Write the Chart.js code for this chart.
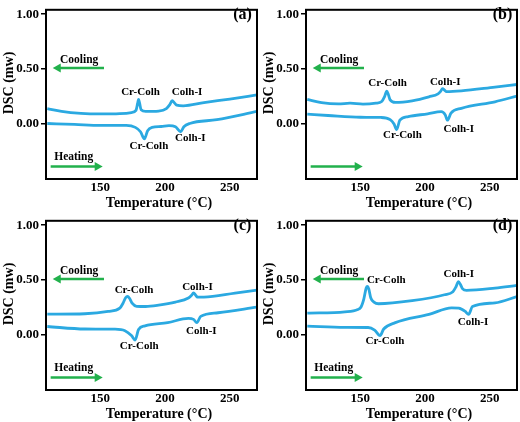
<!DOCTYPE html>
<html>
<head>
<meta charset="utf-8">
<script src="https://cdn.jsdelivr.net/npm/chart.js@4.4.1/dist/chart.umd.min.js"></script>
<style>
  body { margin: 0; background: #fff; }
  #grid { display: grid; grid-template-columns: 260px 260px; grid-template-rows: 211px 211px; width: 520px; height: 422px; }
  canvas { display: block; }
</style>
</head>
<body>
<div id="grid">
  <canvas id="chartA" width="260" height="211"></canvas>
  <canvas id="chartB" width="260" height="211"></canvas>
  <canvas id="chartC" width="260" height="211"></canvas>
  <canvas id="chartD" width="260" height="211"></canvas>
</div>
<script>
// Curvas DSC: temperatura (°C) e fluxo (mw)
const tempCoolA = [109, 120, 135, 150, 165, 174, 177.5, 178.8, 179.5, 180.3, 181.5, 185, 195, 201, 203.5, 205.5, 207.3, 209, 214, 230, 250, 271];
const dscCoolA  = [0.14, 0.115, 0.097, 0.092, 0.095, 0.105, 0.125, 0.19, 0.224, 0.19, 0.13, 0.115, 0.118, 0.14, 0.175, 0.212, 0.192, 0.172, 0.166, 0.195, 0.228, 0.265];
const tempHeatA = [109, 130, 150, 170, 177, 181, 184, 186.5, 190, 197, 203, 208, 212, 214.5, 219, 240, 271];
const dscHeatA  = [0.005, -0.003, -0.012, -0.012, -0.03, -0.07, -0.135, -0.06, -0.03, -0.022, -0.015, -0.025, -0.07, -0.025, 0.005, 0.04, 0.115];

const tempCoolB = [109, 120, 133, 142, 152, 162, 166.5, 168.7, 170.4, 171.6, 173, 177, 190, 203, 210, 211.8, 213.5, 215, 216.5, 228, 254, 271];
const dscCoolB  = [0.225, 0.195, 0.183, 0.19, 0.182, 0.19, 0.205, 0.25, 0.3, 0.27, 0.22, 0.197, 0.212, 0.248, 0.275, 0.295, 0.322, 0.308, 0.295, 0.302, 0.337, 0.36];
const tempHeatB = [109, 125, 150, 166, 173, 176, 178, 180.5, 187, 202, 212.5, 215.5, 217.3, 220, 228, 254, 271];
const dscHeatB  = [0.09, 0.078, 0.062, 0.06, 0.04, 0.0, -0.05, 0.035, 0.068, 0.093, 0.113, 0.085, 0.035, 0.1, 0.143, 0.203, 0.255];

const tempCoolC = [109, 138, 156, 165, 167.5, 169.5, 171, 172.5, 174.5, 178, 185, 195, 208, 218, 220.3, 222, 223.5, 225, 230, 254, 271];
const dscCoolC  = [0.19, 0.194, 0.215, 0.245, 0.29, 0.34, 0.352, 0.335, 0.29, 0.262, 0.26, 0.272, 0.3, 0.337, 0.36, 0.383, 0.365, 0.345, 0.345, 0.382, 0.41];
const tempHeatC = [109, 138, 161, 169, 174, 176.8, 179.5, 184.5, 202, 218, 222, 224.5, 227.5, 241, 271];
const dscHeatC  = [0.078, 0.055, 0.054, 0.04, -0.005, -0.045, 0.05, 0.084, 0.113, 0.152, 0.143, 0.113, 0.17, 0.203, 0.255];

const tempCoolD = [109, 138, 148, 150.5, 152.7, 154.5, 155.5, 156.5, 158, 160.5, 164, 190, 215, 221.5, 223.7, 225.8, 227.3, 229, 232, 254, 271];
const dscCoolD  = [0.2, 0.212, 0.233, 0.255, 0.33, 0.428, 0.442, 0.42, 0.34, 0.3, 0.285, 0.313, 0.367, 0.395, 0.435, 0.487, 0.46, 0.42, 0.407, 0.427, 0.452];
const tempHeatD = [109, 138, 156, 161, 165.2, 168, 177, 203, 220.5, 226, 231, 233.6, 236.6, 254, 271];
const dscHeatD  = [0.081, 0.07, 0.069, 0.045, -0.005, 0.055, 0.113, 0.188, 0.248, 0.245, 0.215, 0.188, 0.26, 0.293, 0.35];

const xTicks = [150, 200, 250];
const yTicks = [0, 0.5, 1];

const FONT = '"Liberation Serif", "Times New Roman", serif';
const LINE_BLUE = '#2BA9E1';
const ARROW_GREEN = '#22B14C';

// painéis: dados + rótulos das transições (em unidades de dados)
const panels = [
  { id: 'chartA', tag: '(a)', coolT: tempCoolA, coolY: dscCoolA, heatT: tempHeatA, heatY: dscHeatA, heatText: true,
    notes: [['Cr-Colh', 181, 0.29], ['Colh-I', 217, 0.29], ['Cr-Colh', 187.5, -0.2], ['Colh-I', 219.5, -0.13]] },
  { id: 'chartB', tag: '(b)', coolT: tempCoolB, coolY: dscCoolB, heatT: tempHeatB, heatY: dscHeatB, heatText: false,
    notes: [['Cr-Colh', 171, 0.37], ['Colh-I', 215.5, 0.38], ['Cr-Colh', 182.5, -0.1], ['Colh-I', 226, -0.05]] },
  { id: 'chartC', tag: '(c)', coolT: tempCoolC, coolY: dscCoolC, heatT: tempHeatC, heatY: dscHeatC, heatText: true,
    notes: [['Cr-Colh', 176, 0.405], ['Colh-I', 225, 0.435], ['Cr-Colh', 180, -0.1], ['Colh-I', 228, 0.04]] },
  { id: 'chartD', tag: '(d)', coolT: tempCoolD, coolY: dscCoolD, heatT: tempHeatD, heatY: dscHeatD, heatText: true,
    notes: [['Cr-Colh', 170, 0.5], ['Colh-I', 226, 0.55], ['Cr-Colh', 169, -0.057], ['Colh-I', 237, 0.122]] }
];

function drawArrow(ctx, x1, y1, x2, y2) {
  const dir = Math.sign(x2 - x1);
  ctx.strokeStyle = ARROW_GREEN;
  ctx.fillStyle = ARROW_GREEN;
  ctx.lineWidth = 2.5;
  ctx.beginPath();
  ctx.moveTo(x1, y1);
  ctx.lineTo(x2 - dir * 5, y2);
  ctx.stroke();
  ctx.beginPath();
  ctx.moveTo(x2, y2);
  ctx.lineTo(x2 - dir * 8, y2 - 4.5);
  ctx.lineTo(x2 - dir * 8, y2 + 4.5);
  ctx.closePath();
  ctx.fill();
}

function decorPlugin(p) {
  return {
    id: 'decor',
    afterDraw(chart) {
      const { ctx, chartArea: a, scales: { x, y } } = chart;
      ctx.save();
      // moldura
      ctx.strokeStyle = '#000';
      ctx.lineWidth = 2;
      ctx.strokeRect(a.left, a.top, a.right - a.left, a.bottom - a.top);

      ctx.fillStyle = '#000';
      ctx.textAlign = 'center';
      ctx.textBaseline = 'middle';

      // rótulos das transições
      ctx.font = 'bold 11px ' + FONT;
      p.notes.forEach(n => ctx.fillText(n[0], x.getPixelForValue(n[1]), y.getPixelForValue(n[2])));

      // setas de resfriamento / aquecimento
      ctx.font = 'bold 11.5px ' + FONT;
      ctx.fillText('Cooling', x.getPixelForValue(133.6), y.getPixelForValue(0.58));
      if (p.heatText) ctx.fillText('Heating', x.getPixelForValue(129.4), y.getPixelForValue(-0.3));
      drawArrow(ctx, x.getPixelForValue(152.8), y.getPixelForValue(0.51), x.getPixelForValue(113.2), y.getPixelForValue(0.51));
      drawArrow(ctx, x.getPixelForValue(111.6), y.getPixelForValue(-0.386), x.getPixelForValue(151.8), y.getPixelForValue(-0.386));

      // letra do painel
      ctx.fillStyle = '#000';
      ctx.font = 'bold 16px ' + FONT;
      ctx.fillText(p.tag, 242.5, 15);

      // títulos dos eixos
      ctx.font = 'bold 14px ' + FONT;
      ctx.fillText('Temperature (\u00B0C)', 159, 203);
      ctx.translate(9, 83);
      ctx.rotate(-Math.PI / 2);
      ctx.fillText('DSC (mw)', 0, 0);
      ctx.restore();
    }
  };
}

function toPoints(ts, ys) {
  return ts.map((t, i) => ({ x: t, y: ys[i] }));
}

panels.forEach(p => {
  new Chart(document.getElementById(p.id), {
    type: 'line',
    data: {
      datasets: [
        { label: 'Cooling', data: toPoints(p.coolT, p.coolY), borderColor: LINE_BLUE },
        { label: 'Heating', data: toPoints(p.heatT, p.heatY), borderColor: LINE_BLUE }
      ]
    },
    options: {
      responsive: false,
      animation: false,
      layout: { padding: { top: 4, right: 3, left: 0, bottom: 0 } },
      plugins: { legend: { display: false }, tooltip: { enabled: false } },
      elements: {
        point: { radius: 0 },
        line: { borderWidth: 2.8, cubicInterpolationMode: 'monotone', fill: false }
      },
      scales: {
        x: {
          type: 'linear', min: 108, max: 271,
          afterFit: s => { s.height = 32; },
          afterBuildTicks: s => { s.ticks = xTicks.map(v => ({ value: v })); },
          grid: { display: false, drawTicks: false },
          border: { display: false },
          ticks: { color: '#000', padding: 1, maxRotation: 0, font: { family: FONT, size: 13, weight: 'bold' } }
        },
        y: {
          min: -0.5, max: 1.04,
          afterFit: s => { s.width = 46; },
          afterBuildTicks: s => { s.ticks = yTicks.map(v => ({ value: v })); },
          grid: { drawOnChartArea: false, tickLength: 5, color: '#000', lineWidth: 1.5 },
          border: { display: false },
          ticks: { color: '#000', padding: 2, callback: v => v.toFixed(2), font: { family: FONT, size: 13, weight: 'bold' } }
        }
      }
    },
    plugins: [decorPlugin(p)]
  });
});
</script>
</body>
</html>
